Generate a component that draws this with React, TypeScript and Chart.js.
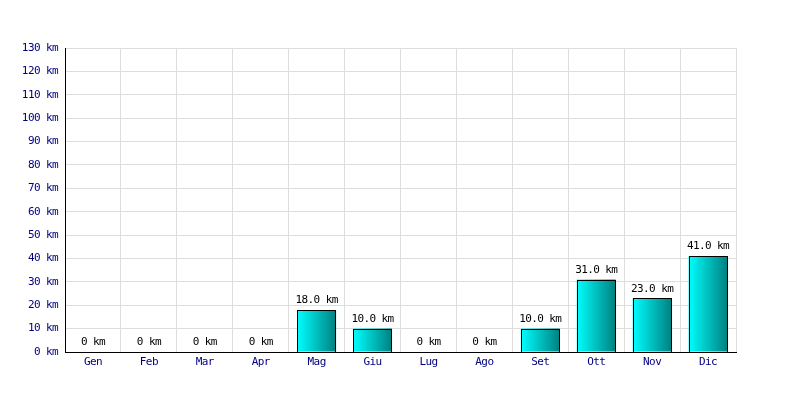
import React, { useEffect, useRef } from "react";
import { Chart, registerables } from "chart.js";

Chart.register(...registerables);

const months = ["Gen", "Feb", "Mar", "Apr", "Mag", "Giu", "Lug", "Ago", "Set", "Ott", "Nov", "Dic"];
const distances = [0, 0, 0, 0, 18, 10, 0, 0, 10, 31, 23, 41];
const yTicks = [0, 10, 20, 30, 40, 50, 60, 70, 80, 90, 100, 110, 120, 130];

const FONT = "'DejaVu Sans Mono', monospace";
const FONT_SIZE = 11;
const BAR_PCT = 39 / 56;

const spacingPlugin = {
  id: "tightText",
  beforeDraw(chart: any) {
    (chart.ctx as any).letterSpacing = "-0.6px";
  },
};

const labelPlugin = {
  id: "barLabels",
  afterDatasetsDraw(chart: any) {
    const ctx = chart.ctx;
    const meta = chart.getDatasetMeta(0);
    ctx.save();
    // crisp 1px black outline for each bar
    ctx.strokeStyle = "#000000";
    ctx.lineWidth = 1;
    meta.data.forEach((bar: any, i: number) => {
      if (distances[i] === 0) return;
      const l = Math.round(bar.x - bar.width / 2);
      const r = Math.round(bar.x + bar.width / 2) - 1;
      const t = Math.round(bar.y);
      const b = Math.round(bar.base);
      ctx.strokeRect(l + 0.5, t + 0.5, r - l, b - t);
    });
    ctx.font = `${FONT_SIZE}px ${FONT}`;
    (ctx as any).letterSpacing = "-0.6px";
    ctx.fillStyle = "#000000";
    ctx.textAlign = "center";
    ctx.textBaseline = "bottom";
    meta.data.forEach((bar: any, i: number) => {
      const v = distances[i];
      const text = v === 0 ? "0 km" : v.toFixed(1) + " km";
      ctx.fillText(text, bar.x, bar.y - 4);
    });
    ctx.restore();
  },
};

function barGradient(c: any) {
  const chart = c.chart;
  const xs = chart.scales?.x;
  if (!chart.chartArea || !xs) return "#00c0c0";
  const cx = xs.getPixelForValue(c.dataIndex);
  const w = (xs.width / months.length) * BAR_PCT;
  const g = chart.ctx.createLinearGradient(cx - w / 2, 0, cx + w / 2, 0);
  g.addColorStop(0, "#00ffff");
  g.addColorStop(1, "#008080");
  return g;
}

export default function App() {
  const ref = useRef<HTMLCanvasElement>(null);
  useEffect(() => {
    if (!ref.current) return;
    const chart = new Chart(ref.current, {
      type: "bar",
      data: {
        labels: months,
        datasets: [
          {
            data: distances,
            backgroundColor: barGradient,
            borderWidth: 0,
            barPercentage: BAR_PCT,
            categoryPercentage: 1,
          },
        ],
      },
      options: {
        animation: false,
        responsive: false,
        maintainAspectRatio: false,
        layout: { padding: { top: 48, right: 64, left: 0, bottom: 0 } },
        plugins: { legend: { display: false }, tooltip: { enabled: false } },
        scales: {
          x: {
            offset: true,
            grid: { color: "#dddddd", drawTicks: false, offset: true },
            border: { color: "#000000", width: 1 },
            ticks: { color: "#000080", font: { family: FONT, size: FONT_SIZE }, padding: 4, maxRotation: 0 },
            afterFit(scale: any) {
              scale.height = 48;
            },
          },
          y: {
            min: 0,
            max: 130,
            afterBuildTicks(scale: any) {
              scale.ticks = yTicks.map((v) => ({ value: v }));
            },
            grid: { color: "#dddddd", drawTicks: false },
            border: { color: "#000000", width: 1 },
            ticks: {
              color: "#000080",
              font: { family: FONT, size: FONT_SIZE },
              padding: 7,
              callback: (v: any) => v + " km",
            },
            afterFit(scale: any) {
              scale.width = 65;
            },
          },
        },
      },
      plugins: [spacingPlugin, labelPlugin],
    });
    return () => chart.destroy();
  }, []);
  return (
    <div style={{ position: "fixed", left: 0, top: 0, width: 800, height: 400, background: "#fff" }}>
      <canvas ref={ref} width={800} height={400} style={{ width: 800, height: 400 }} />
    </div>
  );
}
